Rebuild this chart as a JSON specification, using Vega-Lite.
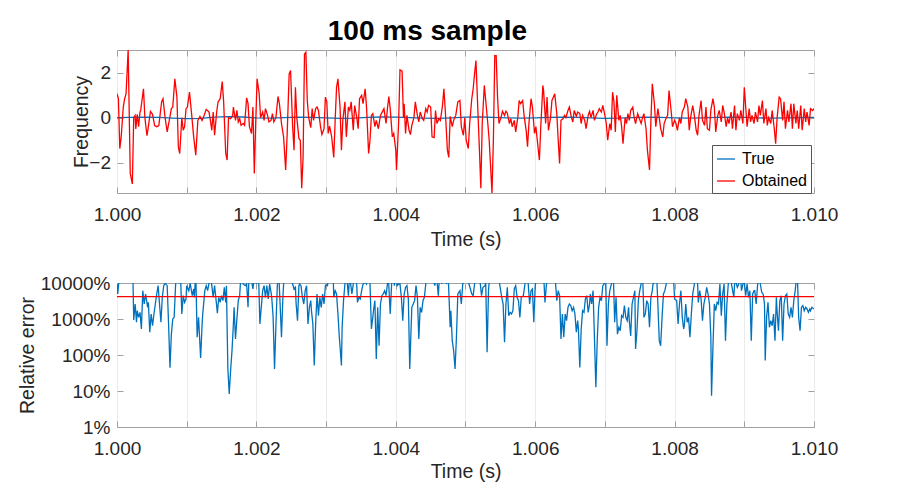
{
  "$schema": "https://vega.github.io/schema/vega-lite/v6.json",
  "background": "white",
  "padding": {"left": 16, "top": 18, "right": 5, "bottom": 5},
  "title": {
    "text": "100 ms sample",
    "font": "Liberation Sans",
    "fontSize": 28,
    "fontWeight": "bold",
    "color": "#000000",
    "anchor": "middle",
    "offset": 3
  },
  "bounds": "flush",
  "spacing": 90,
  "config": {
    "font": "Liberation Sans",
    "view": {"stroke": "#a0a0a0", "strokeWidth": 1},
    "axis": {
      "labelFont": "Liberation Sans",
      "labelFontSize": 19,
      "labelColor": "#262626",
      "titleFont": "Liberation Sans",
      "titleFontSize": 19.5,
      "titleFontWeight": "normal",
      "titleColor": "#262626",
      "tickColor": "#a0a0a0",
      "tickSize": -6,
      "domain": false,
      "labelFlush": false,
      "labelOverlap": false,
      "gridColor": "#ebebeb",
      "gridWidth": 1
    }
  },
  "datasets": {
    "truth": [
      {"t":1.0000,"v":0},{"t":1.0002,"v":0.01},{"t":1.0004,"v":0.02},{"t":1.0006,"v":0.01},{"t":1.0008,"v":-0.02},
      {"t":1.0010,"v":-0.04},{"t":1.0012,"v":-0.03},{"t":1.0014,"v":0.02},{"t":1.0016,"v":0.05},{"t":1.0018,"v":0.03},
      {"t":1.0020,"v":-0.01},{"t":1.0022,"v":-0.02},{"t":1.0024,"v":0},{"t":1.0026,"v":0.02},{"t":1.0028,"v":0.01},
      {"t":1.0030,"v":-0.01},{"t":1.0032,"v":-0.03},{"t":1.0034,"v":-0.02},{"t":1.0036,"v":0.01},{"t":1.0038,"v":0.03},
      {"t":1.0040,"v":0.02},{"t":1.0042,"v":0},{"t":1.0044,"v":-0.02},{"t":1.0046,"v":-0.03},{"t":1.0048,"v":-0.01},
      {"t":1.0050,"v":0.02},{"t":1.0052,"v":0.03},{"t":1.0054,"v":0.01},{"t":1.0056,"v":-0.01},{"t":1.0058,"v":-0.02},
      {"t":1.0060,"v":-0.01},{"t":1.0062,"v":0.01},{"t":1.0064,"v":0.02},{"t":1.0066,"v":0.01},{"t":1.0068,"v":-0.01},
      {"t":1.0070,"v":-0.03},{"t":1.0072,"v":-0.02},{"t":1.0074,"v":0},{"t":1.0076,"v":0.02},{"t":1.0078,"v":0.01},
      {"t":1.0080,"v":-0.01},{"t":1.0082,"v":-0.02},{"t":1.0084,"v":-0.01},{"t":1.0086,"v":0.01},{"t":1.0088,"v":0.02},
      {"t":1.0090,"v":0.01},{"t":1.0092,"v":-0.01},{"t":1.0094,"v":-0.02},{"t":1.0096,"v":-0.01},{"t":1.0098,"v":0},
      {"t":1.0100,"v":0.01}
    ],
    "obtained": [
      {"t":1.00000,"v":1.06},{"t":1.00002,"v":0.84},{"t":1.00004,"v":-1.37},{"t":1.00006,"v":-0.85},{"t":1.00009,"v":0.47},
      {"t":1.00011,"v":0.84},{"t":1.00013,"v":1.06},{"t":1.00016,"v":3.0},{"t":1.00017,"v":1.2},{"t":1.00019,"v":-2.47},
      {"t":1.00022,"v":-2.94},{"t":1.00024,"v":0},{"t":1.00026,"v":0.1},{"t":1.00027,"v":-0.5},{"t":1.00029,"v":0.15},
      {"t":1.00031,"v":-0.4},{"t":1.00033,"v":0.25},{"t":1.00034,"v":0.32},{"t":1.00038,"v":1.28},{"t":1.00040,"v":0},
      {"t":1.00043,"v":-0.8},{"t":1.00045,"v":-0.4},{"t":1.00048,"v":0.28},{"t":1.00051,"v":0.15},{"t":1.00054,"v":-0.35},
      {"t":1.00057,"v":-0.4},{"t":1.00060,"v":-0.35},{"t":1.00064,"v":0.7},{"t":1.00066,"v":0.84},{"t":1.00069,"v":0},
      {"t":1.00072,"v":-0.63},{"t":1.00075,"v":-0.12},{"t":1.00078,"v":0.4},{"t":1.00080,"v":0.47},{"t":1.00083,"v":1.72},
      {"t":1.00086,"v":0.9},{"t":1.00088,"v":-1.3},{"t":1.00090,"v":-1.59},{"t":1.00093,"v":0},{"t":1.00095,"v":-0.56},
      {"t":1.00097,"v":-0.4},{"t":1.00099,"v":0.4},{"t":1.00101,"v":0.47},{"t":1.00104,"v":1.13},{"t":1.00107,"v":0.18},
      {"t":1.00110,"v":-0.85},{"t":1.00113,"v":-1.66},{"t":1.00116,"v":-0.12},{"t":1.00119,"v":0.06},{"t":1.00122,"v":-0.12},
      {"t":1.00125,"v":0.1},{"t":1.00128,"v":0.37},{"t":1.00132,"v":0.25},{"t":1.00134,"v":-0.12},{"t":1.00136,"v":-0.56},
      {"t":1.00138,"v":0.25},{"t":1.00140,"v":-0.78},{"t":1.00143,"v":0.25},{"t":1.00145,"v":0.7},{"t":1.00148,"v":0.84},
      {"t":1.00151,"v":1.6},{"t":1.00153,"v":0.7},{"t":1.00156,"v":-1.59},{"t":1.00158,"v":-1.88},{"t":1.00160,"v":0},
      {"t":1.00163,"v":-0.04},{"t":1.00166,"v":0.1},{"t":1.00167,"v":0.47},{"t":1.00170,"v":-0.12},{"t":1.00172,"v":0.32},
      {"t":1.00174,"v":-0.19},{"t":1.00176,"v":-0.04},{"t":1.00178,"v":-0.34},{"t":1.00181,"v":-0.26},{"t":1.00183,"v":-0.34},
      {"t":1.00186,"v":0.88},{"t":1.00188,"v":0.62},{"t":1.00190,"v":-0.4},{"t":1.00193,"v":-0.7},{"t":1.00195,"v":0.47},
      {"t":1.00197,"v":-2.47},{"t":1.00199,"v":-0.26},{"t":1.00201,"v":1.72},{"t":1.00204,"v":1.06},{"t":1.00206,"v":0},
      {"t":1.00209,"v":0.25},{"t":1.00211,"v":-0.12},{"t":1.00213,"v":0.4},{"t":1.00216,"v":0.1},{"t":1.00218,"v":-0.19},
      {"t":1.00221,"v":-0.12},{"t":1.00223,"v":0.18},{"t":1.00225,"v":-0.19},{"t":1.00228,"v":0},{"t":1.00231,"v":0.94},
      {"t":1.00233,"v":0.62},{"t":1.00236,"v":-0.26},{"t":1.00239,"v":-0.85},{"t":1.00242,"v":-2.32},{"t":1.00244,"v":-0.85},
      {"t":1.00247,"v":1.94},{"t":1.00249,"v":2.09},{"t":1.00252,"v":-0.4},{"t":1.00254,"v":-1.44},{"t":1.00256,"v":1.35},
      {"t":1.00258,"v":0},{"t":1.00261,"v":-0.93},{"t":1.00263,"v":-1.0},{"t":1.00265,"v":-3.13},{"t":1.00267,"v":-1.74},
      {"t":1.00269,"v":2.82},{"t":1.00271,"v":2.9},{"t":1.00273,"v":0.76},{"t":1.00275,"v":0},{"t":1.00278,"v":-0.44},
      {"t":1.00280,"v":0.4},{"t":1.00282,"v":-0.12},{"t":1.00285,"v":0.4},{"t":1.00287,"v":0.47},{"t":1.00289,"v":0.32},
      {"t":1.00292,"v":-0.4},{"t":1.00294,"v":-0.75},{"t":1.00297,"v":-0.49},{"t":1.00299,"v":0.91},{"t":1.00301,"v":0.7},
      {"t":1.00303,"v":-0.7},{"t":1.00305,"v":-0.38},{"t":1.00308,"v":-0.85},{"t":1.00311,"v":-1.76},{"t":1.00313,"v":-0.12},
      {"t":1.00315,"v":1.35},{"t":1.00317,"v":1.72},{"t":1.00320,"v":0.47},{"t":1.00322,"v":-1.44},{"t":1.00324,"v":-0.12},
      {"t":1.00327,"v":0.7},{"t":1.00329,"v":-0.85},{"t":1.00332,"v":0.47},{"t":1.00334,"v":0.32},{"t":1.00336,"v":0.7},
      {"t":1.00339,"v":-0.56},{"t":1.00341,"v":0.54},{"t":1.00344,"v":0},{"t":1.00346,"v":-0.49},{"t":1.00348,"v":0.84},
      {"t":1.00351,"v":0.99},{"t":1.00353,"v":0.62},{"t":1.00356,"v":1.28},{"t":1.00358,"v":0.47},{"t":1.00361,"v":-1.59},
      {"t":1.00363,"v":-1.0},{"t":1.00365,"v":0.1},{"t":1.00367,"v":0.18},{"t":1.00370,"v":-0.4},{"t":1.00372,"v":-0.12},
      {"t":1.00375,"v":-0.49},{"t":1.00378,"v":0.1},{"t":1.00381,"v":0.28},{"t":1.00383,"v":0.4},{"t":1.00386,"v":-0.26},
      {"t":1.00388,"v":0.4},{"t":1.00390,"v":0.94},{"t":1.00392,"v":0.4},{"t":1.00395,"v":-0.85},{"t":1.00397,"v":-0.7},
      {"t":1.00400,"v":-1.44},{"t":1.00401,"v":-2.32},{"t":1.00404,"v":-0.26},{"t":1.00406,"v":2.12},{"t":1.00409,"v":2.06},
      {"t":1.00411,"v":0},{"t":1.00412,"v":0.62},{"t":1.00414,"v":-0.7},{"t":1.00416,"v":0.1},{"t":1.00419,"v":-0.56},
      {"t":1.00421,"v":-0.75},{"t":1.00423,"v":-0.34},{"t":1.00426,"v":0},{"t":1.00428,"v":0.7},{"t":1.00431,"v":0.1},
      {"t":1.00433,"v":-0.19},{"t":1.00435,"v":0.25},{"t":1.00438,"v":-0.04},{"t":1.00440,"v":-0.12},{"t":1.00443,"v":0.4},
      {"t":1.00445,"v":0.25},{"t":1.00447,"v":0.54},{"t":1.00450,"v":0.47},{"t":1.00452,"v":-0.85},{"t":1.00455,"v":-0.88},
      {"t":1.00457,"v":0.32},{"t":1.00459,"v":-0.26},{"t":1.00462,"v":-0.04},{"t":1.00464,"v":-0.12},{"t":1.00467,"v":0.54},
      {"t":1.00469,"v":1.28},{"t":1.00471,"v":0.32},{"t":1.00474,"v":-1.44},{"t":1.00476,"v":-1.76},{"t":1.00478,"v":0.06},
      {"t":1.00481,"v":-0.4},{"t":1.00483,"v":-0.12},{"t":1.00486,"v":0.1},{"t":1.00489,"v":0.7},{"t":1.00492,"v":0.76},
      {"t":1.00494,"v":-0.4},{"t":1.00497,"v":-0.78},{"t":1.00499,"v":0},{"t":1.00501,"v":-1.0},{"t":1.00504,"v":-1.37},
      {"t":1.00506,"v":-0.26},{"t":1.00509,"v":0.84},{"t":1.00511,"v":1.28},{"t":1.00513,"v":1.94},{"t":1.00515,"v":2.53},
      {"t":1.00517,"v":0.91},{"t":1.00520,"v":-1.44},{"t":1.00522,"v":-3.13},{"t":1.00524,"v":-0.26},{"t":1.00527,"v":1.43},
      {"t":1.00529,"v":0.76},{"t":1.00532,"v":-0.26},{"t":1.00534,"v":-1.0},{"t":1.00536,"v":-2.18},{"t":1.00538,"v":-3.34},
      {"t":1.00540,"v":-1.0},{"t":1.00542,"v":2.75},{"t":1.00544,"v":2.75},{"t":1.00546,"v":0.91},{"t":1.00548,"v":-0.26},
      {"t":1.00551,"v":0},{"t":1.00553,"v":0.29},{"t":1.00556,"v":0.1},{"t":1.00558,"v":0.29},{"t":1.00560,"v":0.2},
      {"t":1.00563,"v":-0.26},{"t":1.00565,"v":-0.04},{"t":1.00567,"v":-0.4},{"t":1.00570,"v":-0.12},{"t":1.00572,"v":-0.63},
      {"t":1.00575,"v":0},{"t":1.00577,"v":0.76},{"t":1.00579,"v":0.62},{"t":1.00582,"v":0.76},{"t":1.00584,"v":0.1},
      {"t":1.00587,"v":-0.56},{"t":1.00589,"v":-1.29},{"t":1.00591,"v":-0.26},{"t":1.00594,"v":0.84},{"t":1.00596,"v":0.47},
      {"t":1.00599,"v":-0.7},{"t":1.00601,"v":-0.4},{"t":1.00603,"v":-1.0},{"t":1.00606,"v":-1.88},{"t":1.00608,"v":-0.4},
      {"t":1.00611,"v":1.43},{"t":1.00612,"v":1.2},{"t":1.00615,"v":-0.26},{"t":1.00617,"v":0.91},{"t":1.00619,"v":-0.56},
      {"t":1.00622,"v":0},{"t":1.00624,"v":0.76},{"t":1.00626,"v":0.91},{"t":1.00628,"v":1.06},{"t":1.00631,"v":0.18},
      {"t":1.00633,"v":-1.0},{"t":1.00635,"v":-2.03},{"t":1.00637,"v":-0.12},{"t":1.00640,"v":-0.04},{"t":1.00642,"v":0.1},
      {"t":1.00644,"v":0},{"t":1.00647,"v":0.32},{"t":1.00649,"v":0.47},{"t":1.00652,"v":0},{"t":1.00654,"v":-0.19},
      {"t":1.00656,"v":0.32},{"t":1.00659,"v":0.06},{"t":1.00661,"v":0.25},{"t":1.00664,"v":0.18},{"t":1.00666,"v":-0.26},
      {"t":1.00668,"v":0.1},{"t":1.00671,"v":-0.12},{"t":1.00673,"v":-0.49},{"t":1.00676,"v":0.1},{"t":1.00678,"v":0.28},
      {"t":1.00680,"v":0},{"t":1.00683,"v":0.32},{"t":1.00685,"v":-0.12},{"t":1.00688,"v":0.15},{"t":1.00690,"v":0.25},
      {"t":1.00692,"v":0.4},{"t":1.00695,"v":0.25},{"t":1.00697,"v":0.54},{"t":1.00700,"v":0.1},{"t":1.00702,"v":-0.26},
      {"t":1.00704,"v":-1.0},{"t":1.00707,"v":-0.26},{"t":1.00709,"v":-0.56},{"t":1.00711,"v":1.13},{"t":1.00713,"v":0.7},
      {"t":1.00715,"v":-0.63},{"t":1.00717,"v":0.99},{"t":1.00720,"v":-0.12},{"t":1.00722,"v":0.1},{"t":1.00724,"v":-0.4},
      {"t":1.00726,"v":-1.15},{"t":1.00729,"v":0},{"t":1.00731,"v":-0.26},{"t":1.00733,"v":0.18},{"t":1.00735,"v":-0.12},
      {"t":1.00737,"v":0.32},{"t":1.00740,"v":0.47},{"t":1.00742,"v":0},{"t":1.00744,"v":-0.26},{"t":1.00747,"v":0.18},
      {"t":1.00749,"v":0},{"t":1.00752,"v":-0.26},{"t":1.00754,"v":0},{"t":1.00756,"v":0.18},{"t":1.00759,"v":-0.49},
      {"t":1.00761,"v":-1.44},{"t":1.00764,"v":-2.32},{"t":1.00766,"v":-0.12},{"t":1.00768,"v":1.5},{"t":1.00771,"v":0.62},
      {"t":1.00773,"v":-0.4},{"t":1.00776,"v":0.4},{"t":1.00778,"v":0},{"t":1.00780,"v":-0.49},{"t":1.00783,"v":-0.85},
      {"t":1.00785,"v":-0.26},{"t":1.00788,"v":0},{"t":1.00790,"v":0.1},{"t":1.00792,"v":1.2},{"t":1.00795,"v":0.32},
      {"t":1.00797,"v":-0.4},{"t":1.00800,"v":-0.12},{"t":1.00802,"v":-0.26},{"t":1.00804,"v":-0.56},{"t":1.00807,"v":0},
      {"t":1.00809,"v":-0.26},{"t":1.00811,"v":0.25},{"t":1.00814,"v":0.47},{"t":1.00816,"v":0.84},{"t":1.00819,"v":0.47},
      {"t":1.00821,"v":-0.56},{"t":1.00823,"v":0},{"t":1.00826,"v":0.54},{"t":1.00828,"v":0.18},{"t":1.00831,"v":-0.56},
      {"t":1.00833,"v":-0.78},{"t":1.00835,"v":0.1},{"t":1.00838,"v":0.76},{"t":1.00840,"v":-0.12},{"t":1.00843,"v":-0.34},
      {"t":1.00845,"v":0.47},{"t":1.00847,"v":-0.49},{"t":1.00850,"v":-0.56},{"t":1.00852,"v":0.32},{"t":1.00855,"v":0.84},
      {"t":1.00857,"v":0.47},{"t":1.00859,"v":-0.63},{"t":1.00862,"v":0.1},{"t":1.00864,"v":0.32},{"t":1.00867,"v":-0.19},
      {"t":1.00869,"v":0.54},{"t":1.00871,"v":0.25},{"t":1.00874,"v":-0.4},{"t":1.00876,"v":0},{"t":1.00878,"v":-0.26},
      {"t":1.00881,"v":0.25},{"t":1.00883,"v":-0.49},{"t":1.00886,"v":0.54},{"t":1.00888,"v":-0.56},{"t":1.00890,"v":0.18},
      {"t":1.00893,"v":-0.12},{"t":1.00895,"v":0.32},{"t":1.00898,"v":-0.26},{"t":1.00900,"v":1.35},{"t":1.00902,"v":0.47},
      {"t":1.00904,"v":-0.4},{"t":1.00907,"v":0.4},{"t":1.00909,"v":-0.19},{"t":1.00911,"v":0.1},{"t":1.00914,"v":-0.26},
      {"t":1.00916,"v":0.25},{"t":1.00919,"v":-0.19},{"t":1.00921,"v":0.54},{"t":1.00923,"v":0.1},{"t":1.00926,"v":0.76},
      {"t":1.00928,"v":-0.26},{"t":1.00931,"v":0.4},{"t":1.00933,"v":-0.34},{"t":1.00935,"v":0},{"t":1.00938,"v":-0.26},
      {"t":1.00940,"v":0.32},{"t":1.00943,"v":-0.49},{"t":1.00945,"v":-1.15},{"t":1.00947,"v":-0.04},{"t":1.00950,"v":0.91},
      {"t":1.00952,"v":0.84},{"t":1.00955,"v":-0.12},{"t":1.00957,"v":0.7},{"t":1.00959,"v":-0.49},{"t":1.00962,"v":0.32},
      {"t":1.00964,"v":-0.19},{"t":1.00967,"v":0.62},{"t":1.00969,"v":-0.49},{"t":1.00971,"v":0.62},{"t":1.00974,"v":-0.26},
      {"t":1.00976,"v":0.32},{"t":1.00978,"v":-0.49},{"t":1.00981,"v":0.54},{"t":1.00983,"v":-0.56},{"t":1.00986,"v":0.4},
      {"t":1.00988,"v":-0.19},{"t":1.00990,"v":0.25},{"t":1.00993,"v":-0.34},{"t":1.00995,"v":0.4},{"t":1.00998,"v":0.32},
      {"t":1.01000,"v":0.4}
    ],
    "err": [
      {"t":1.00000,"v":9380},{"t":1.00001,"v":4950},{"t":1.00004,"v":20000},{"t":1.00009,"v":20000},{"t":1.00013,"v":20000},
      {"t":1.00018,"v":20000},{"t":1.00022,"v":20000},{"t":1.00023,"v":10000},{"t":1.00024,"v":940},{"t":1.00026,"v":2610},
      {"t":1.00028,"v":810},{"t":1.00029,"v":1700},{"t":1.00031,"v":1110},{"t":1.00033,"v":1530},{"t":1.00035,"v":530},
      {"t":1.00037,"v":6120},{"t":1.00039,"v":2610},{"t":1.00041,"v":4950},{"t":1.00044,"v":2110},{"t":1.00045,"v":2900},
      {"t":1.00047,"v":430},{"t":1.00049,"v":1380},{"t":1.00051,"v":650},{"t":1.00053,"v":1380},{"t":1.00055,"v":2610},
      {"t":1.00057,"v":4950},{"t":1.00059,"v":8430},{"t":1.00061,"v":2610},{"t":1.00063,"v":810},{"t":1.00065,"v":4000},
      {"t":1.00067,"v":8430},{"t":1.00069,"v":9790},{"t":1.00072,"v":8430},{"t":1.00074,"v":730},{"t":1.00076,"v":44},
      {"t":1.00078,"v":380},{"t":1.00080,"v":1000},{"t":1.00082,"v":1110},{"t":1.00084,"v":8430},{"t":1.00086,"v":20000},
      {"t":1.00089,"v":9790},{"t":1.00091,"v":20000},{"t":1.00093,"v":1380},{"t":1.00095,"v":4450},{"t":1.00097,"v":2900},
      {"t":1.00099,"v":3590},{"t":1.00100,"v":8430},{"t":1.00103,"v":6120},{"t":1.00105,"v":9790},{"t":1.00108,"v":4450},
      {"t":1.00110,"v":6810},{"t":1.00111,"v":4000},{"t":1.00113,"v":20000},{"t":1.00115,"v":310},{"t":1.00117,"v":1110},
      {"t":1.00120,"v":83},{"t":1.00122,"v":650},{"t":1.00123,"v":1380},{"t":1.00126,"v":6120},{"t":1.00128,"v":8430},
      {"t":1.00130,"v":6120},{"t":1.00132,"v":9790},{"t":1.00134,"v":20000},{"t":1.00136,"v":8430},{"t":1.00138,"v":4000},
      {"t":1.00140,"v":8430},{"t":1.00142,"v":3590},{"t":1.00144,"v":1440},{"t":1.00146,"v":4000},{"t":1.00148,"v":2900},
      {"t":1.00150,"v":4450},{"t":1.00152,"v":3230},{"t":1.00154,"v":7580},{"t":1.00156,"v":2900},{"t":1.00157,"v":8430},
      {"t":1.00159,"v":45},{"t":1.00161,"v":8.3},{"t":1.00163,"v":37},{"t":1.00165,"v":132},{"t":1.00167,"v":730},
      {"t":1.00168,"v":2110},{"t":1.00170,"v":280},{"t":1.00172,"v":1000},{"t":1.00174,"v":3230},{"t":1.00176,"v":4450},
      {"t":1.00177,"v":9380},{"t":1.00179,"v":20000},{"t":1.00181,"v":9380},{"t":1.00184,"v":8430},{"t":1.00186,"v":9380},
      {"t":1.00188,"v":2110},{"t":1.00189,"v":9380},{"t":1.00191,"v":20000},{"t":1.00195,"v":6810},{"t":1.00198,"v":20000},
      {"t":1.00200,"v":9380},{"t":1.00203,"v":20000},{"t":1.00205,"v":730},{"t":1.00207,"v":2110},{"t":1.00209,"v":6120},
      {"t":1.00211,"v":8430},{"t":1.00213,"v":4000},{"t":1.00215,"v":8430},{"t":1.00217,"v":3590},{"t":1.00219,"v":9380},
      {"t":1.00221,"v":5510},{"t":1.00222,"v":4000},{"t":1.00224,"v":1110},{"t":1.00226,"v":41},{"t":1.00228,"v":650},
      {"t":1.00230,"v":8430},{"t":1.00232,"v":20000},{"t":1.00234,"v":2610},{"t":1.00236,"v":310},{"t":1.00238,"v":4000},
      {"t":1.00240,"v":20000},{"t":1.00245,"v":20000},{"t":1.00252,"v":9380},{"t":1.00254,"v":6810},{"t":1.00256,"v":7580},
      {"t":1.00257,"v":2610},{"t":1.00259,"v":900},{"t":1.00261,"v":8430},{"t":1.00262,"v":9380},{"t":1.00264,"v":8430},
      {"t":1.00266,"v":4000},{"t":1.00268,"v":2610},{"t":1.00270,"v":6120},{"t":1.00272,"v":8430},{"t":1.00274,"v":730},
      {"t":1.00276,"v":2110},{"t":1.00278,"v":3230},{"t":1.00279,"v":1700},{"t":1.00281,"v":730},{"t":1.00283,"v":51},
      {"t":1.00285,"v":730},{"t":1.00287,"v":4950},{"t":1.00289,"v":1240},{"t":1.00291,"v":4000},{"t":1.00293,"v":2110},
      {"t":1.00295,"v":4950},{"t":1.00297,"v":2610},{"t":1.00299,"v":8430},{"t":1.00300,"v":8990},{"t":1.00302,"v":8430},
      {"t":1.00304,"v":20000},{"t":1.00310,"v":20000},{"t":1.00311,"v":4000},{"t":1.00313,"v":6120},{"t":1.00315,"v":4950},
      {"t":1.00317,"v":1380},{"t":1.00319,"v":310},{"t":1.00322,"v":51},{"t":1.00323,"v":590},{"t":1.00325,"v":3230},
      {"t":1.00327,"v":9380},{"t":1.00329,"v":20000},{"t":1.00332,"v":4450},{"t":1.00333,"v":9380},{"t":1.00335,"v":10500},
      {"t":1.00337,"v":4950},{"t":1.00339,"v":9380},{"t":1.00341,"v":20000},{"t":1.00344,"v":8430},{"t":1.00345,"v":2900},
      {"t":1.00347,"v":4000},{"t":1.00349,"v":3590},{"t":1.00351,"v":6120},{"t":1.00353,"v":9380},{"t":1.00356,"v":10500},
      {"t":1.00358,"v":9380},{"t":1.00360,"v":20000},{"t":1.00363,"v":9380},{"t":1.00365,"v":530},{"t":1.00367,"v":1110},
      {"t":1.00368,"v":1700},{"t":1.00370,"v":3230},{"t":1.00372,"v":77},{"t":1.00374,"v":2110},{"t":1.00376,"v":180},
      {"t":1.00378,"v":2610},{"t":1.00380,"v":4450},{"t":1.00382,"v":4950},{"t":1.00384,"v":6120},{"t":1.00386,"v":4450},
      {"t":1.00388,"v":9380},{"t":1.00389,"v":20000},{"t":1.00392,"v":1380},{"t":1.00394,"v":9380},{"t":1.00396,"v":20000},
      {"t":1.00398,"v":8430},{"t":1.00400,"v":20000},{"t":1.00402,"v":8430},{"t":1.00404,"v":9380},{"t":1.00406,"v":9380},
      {"t":1.00408,"v":4000},{"t":1.00410,"v":900},{"t":1.00412,"v":4950},{"t":1.00414,"v":7580},{"t":1.00416,"v":8430},
      {"t":1.00418,"v":3590},{"t":1.00420,"v":41},{"t":1.00422,"v":590},{"t":1.00423,"v":2110},{"t":1.00425,"v":2610},
      {"t":1.00427,"v":3230},{"t":1.00429,"v":8430},{"t":1.00431,"v":4000},{"t":1.00433,"v":280},{"t":1.00435,"v":2110},
      {"t":1.00437,"v":1530},{"t":1.00439,"v":3230},{"t":1.00441,"v":4000},{"t":1.00443,"v":9380},{"t":1.00444,"v":20000},
      {"t":1.00451,"v":20000},{"t":1.00456,"v":8430},{"t":1.00458,"v":20000},{"t":1.00461,"v":4450},{"t":1.00463,"v":20000},
      {"t":1.00466,"v":9380},{"t":1.00468,"v":20000},{"t":1.00473,"v":9380},{"t":1.00475,"v":20000},{"t":1.00478,"v":590},
      {"t":1.00479,"v":1700},{"t":1.00481,"v":250},{"t":1.00483,"v":132},{"t":1.00485,"v":41},{"t":1.00487,"v":310},
      {"t":1.00489,"v":4950},{"t":1.00492,"v":6120},{"t":1.00494,"v":2610},{"t":1.00496,"v":9380},{"t":1.00498,"v":10500},
      {"t":1.00501,"v":20000},{"t":1.00505,"v":9380},{"t":1.00509,"v":4950},{"t":1.00511,"v":4450},{"t":1.00513,"v":9380},
      {"t":1.00516,"v":20000},{"t":1.00521,"v":10500},{"t":1.00523,"v":4450},{"t":1.00525,"v":7580},{"t":1.00528,"v":8430},
      {"t":1.00529,"v":10500},{"t":1.00531,"v":119},{"t":1.00533,"v":6120},{"t":1.00535,"v":20000},{"t":1.00547,"v":20000},
      {"t":1.00549,"v":9380},{"t":1.00552,"v":4000},{"t":1.00554,"v":2610},{"t":1.00556,"v":225},{"t":1.00558,"v":2610},
      {"t":1.00560,"v":7580},{"t":1.00562,"v":1240},{"t":1.00564,"v":1530},{"t":1.00566,"v":1380},{"t":1.00568,"v":1700},
      {"t":1.00570,"v":6810},{"t":1.00572,"v":8430},{"t":1.00574,"v":4000},{"t":1.00576,"v":3230},{"t":1.00578,"v":1110},
      {"t":1.00580,"v":4000},{"t":1.00583,"v":4450},{"t":1.00585,"v":8430},{"t":1.00587,"v":20000},{"t":1.00590,"v":9380},
      {"t":1.00592,"v":2610},{"t":1.00594,"v":6120},{"t":1.00596,"v":6810},{"t":1.00598,"v":810},{"t":1.00600,"v":8430},
      {"t":1.00603,"v":20000},{"t":1.00612,"v":20000},{"t":1.00614,"v":2900},{"t":1.00616,"v":8430},{"t":1.00619,"v":20000},
      {"t":1.00628,"v":20000},{"t":1.00631,"v":3230},{"t":1.00633,"v":6120},{"t":1.00635,"v":4450},{"t":1.00637,"v":280},
      {"t":1.00639,"v":1380},{"t":1.00641,"v":310},{"t":1.00643,"v":1380},{"t":1.00645,"v":900},{"t":1.00647,"v":2110},
      {"t":1.00649,"v":2610},{"t":1.00651,"v":2350},{"t":1.00653,"v":1700},{"t":1.00655,"v":2110},{"t":1.00657,"v":1380},
      {"t":1.00659,"v":430},{"t":1.00661,"v":900},{"t":1.00662,"v":530},{"t":1.00664,"v":45},{"t":1.00666,"v":530},
      {"t":1.00668,"v":1700},{"t":1.00670,"v":1530},{"t":1.00672,"v":3590},{"t":1.00674,"v":4450},{"t":1.00676,"v":1530},
      {"t":1.00678,"v":2610},{"t":1.00679,"v":4950},{"t":1.00681,"v":2610},{"t":1.00683,"v":6120},{"t":1.00685,"v":310},
      {"t":1.00687,"v":12.7},{"t":1.00689,"v":250},{"t":1.00691,"v":2110},{"t":1.00693,"v":4000},{"t":1.00695,"v":3230},
      {"t":1.00697,"v":8430},{"t":1.00699,"v":9380},{"t":1.00701,"v":20000},{"t":1.00703,"v":180},{"t":1.00705,"v":2610},
      {"t":1.00707,"v":6120},{"t":1.00710,"v":10500},{"t":1.00712,"v":20000},{"t":1.00714,"v":810},{"t":1.00716,"v":4000},
      {"t":1.00718,"v":380},{"t":1.00720,"v":590},{"t":1.00722,"v":470},{"t":1.00724,"v":1240},{"t":1.00726,"v":1110},
      {"t":1.00728,"v":2350},{"t":1.00730,"v":1110},{"t":1.00732,"v":900},{"t":1.00734,"v":2110},{"t":1.00735,"v":900},
      {"t":1.00737,"v":340},{"t":1.00739,"v":2610},{"t":1.00741,"v":4000},{"t":1.00743,"v":6120},{"t":1.00744,"v":147},
      {"t":1.00746,"v":470},{"t":1.00748,"v":3230},{"t":1.00750,"v":6120},{"t":1.00752,"v":9380},{"t":1.00754,"v":20000},
      {"t":1.00756,"v":1110},{"t":1.00758,"v":1380},{"t":1.00760,"v":3230},{"t":1.00762,"v":2610},{"t":1.00764,"v":590},
      {"t":1.00766,"v":4000},{"t":1.00768,"v":6120},{"t":1.00769,"v":9380},{"t":1.00772,"v":10500},{"t":1.00774,"v":20000},
      {"t":1.00776,"v":2610},{"t":1.00778,"v":250},{"t":1.00780,"v":180},{"t":1.00782,"v":1110},{"t":1.00784,"v":4950},
      {"t":1.00786,"v":6120},{"t":1.00788,"v":9380},{"t":1.00791,"v":20000},{"t":1.00798,"v":20000},{"t":1.00800,"v":3590},
      {"t":1.00803,"v":3230},{"t":1.00805,"v":730},{"t":1.00807,"v":2610},{"t":1.00809,"v":6120},{"t":1.00811,"v":1110},
      {"t":1.00813,"v":530},{"t":1.00814,"v":650},{"t":1.00816,"v":2610},{"t":1.00818,"v":810},{"t":1.00820,"v":1110},
      {"t":1.00822,"v":310},{"t":1.00824,"v":1380},{"t":1.00826,"v":4950},{"t":1.00828,"v":8430},{"t":1.00830,"v":20000},
      {"t":1.00833,"v":9380},{"t":1.00834,"v":2900},{"t":1.00836,"v":6120},{"t":1.00838,"v":3590},{"t":1.00840,"v":900},
      {"t":1.00842,"v":2610},{"t":1.00844,"v":4000},{"t":1.00846,"v":7580},{"t":1.00848,"v":4950},{"t":1.00850,"v":2610},
      {"t":1.00852,"v":310},{"t":1.00853,"v":7.4},{"t":1.00855,"v":163},{"t":1.00857,"v":2610},{"t":1.00859,"v":1700},
      {"t":1.00861,"v":2900},{"t":1.00863,"v":2610},{"t":1.00865,"v":9380},{"t":1.00867,"v":1240},{"t":1.00869,"v":4950},
      {"t":1.00871,"v":9380},{"t":1.00873,"v":250},{"t":1.00875,"v":2610},{"t":1.00877,"v":9380},{"t":1.00879,"v":20000},
      {"t":1.00882,"v":8430},{"t":1.00885,"v":4000},{"t":1.00886,"v":9380},{"t":1.00888,"v":10500},{"t":1.00890,"v":7580},
      {"t":1.00892,"v":9380},{"t":1.00894,"v":20000},{"t":1.00896,"v":6120},{"t":1.00898,"v":9380},{"t":1.00900,"v":10500},
      {"t":1.00902,"v":4450},{"t":1.00904,"v":9380},{"t":1.00906,"v":4000},{"t":1.00908,"v":6120},{"t":1.00910,"v":250},
      {"t":1.00912,"v":4950},{"t":1.00914,"v":6120},{"t":1.00915,"v":6120},{"t":1.00917,"v":2610},{"t":1.00919,"v":8430},
      {"t":1.00921,"v":20000},{"t":1.00923,"v":9380},{"t":1.00925,"v":5510},{"t":1.00927,"v":4950},{"t":1.00929,"v":2610},
      {"t":1.00930,"v":70},{"t":1.00932,"v":1110},{"t":1.00934,"v":2900},{"t":1.00936,"v":590},{"t":1.00938,"v":900},
      {"t":1.00940,"v":650},{"t":1.00942,"v":1380},{"t":1.00944,"v":250},{"t":1.00946,"v":4000},{"t":1.00947,"v":1700},
      {"t":1.00949,"v":470},{"t":1.00951,"v":3230},{"t":1.00953,"v":4450},{"t":1.00955,"v":250},{"t":1.00957,"v":2610},
      {"t":1.00959,"v":4450},{"t":1.00961,"v":4950},{"t":1.00963,"v":1380},{"t":1.00965,"v":1110},{"t":1.00967,"v":2110},
      {"t":1.00969,"v":1110},{"t":1.00971,"v":3230},{"t":1.00973,"v":6120},{"t":1.00974,"v":9380},{"t":1.00976,"v":20000},
      {"t":1.00978,"v":1110},{"t":1.00980,"v":470},{"t":1.00982,"v":2110},{"t":1.00984,"v":2350},{"t":1.00986,"v":1700},
      {"t":1.00988,"v":2110},{"t":1.00990,"v":1900},{"t":1.00992,"v":1530},{"t":1.00994,"v":1900},{"t":1.00995,"v":1700},
      {"t":1.00997,"v":2110},{"t":1.01000,"v":1900}
    ],
    "mean": [{"t0":1.0,"t1":1.01,"v":4170}]
  },
  "vconcat": [
    {
      "width": 697,
      "height": 143,
      "layer": [
        {
          "data": {"name": "truth"},
          "mark": {"type": "line", "strokeWidth": 1.3, "clip": true},
          "encoding": {
            "x": {
              "field": "t", "type": "quantitative",
              "scale": {"domain": [1.0, 1.01], "nice": false, "zero": false},
              "axis": {"orient": "top", "values": [1.0,1.001,1.002,1.003,1.004,1.005,1.006,1.007,1.008,1.009,1.01], "labels": false, "grid": false, "title": null}
            },
            "y": {
              "field": "v", "type": "quantitative",
              "scale": {"domain": [-3.34, 3.0], "nice": false, "zero": false},
              "axis": {"orient": "right", "values": [-2, 0, 2], "labels": false, "grid": false, "title": null}
            },
            "color": {
              "datum": "True", "type": "nominal",
              "scale": {"domain": ["True", "Obtained"], "range": ["#0072BD", "#FF0000"]},
              "legend": {
                "orient": "none", "legendX": 595, "legendY": 95, "title": null,
                "symbolType": "stroke", "symbolStrokeWidth": 1.3, "symbolSize": 324,
                "labelFont": "Liberation Sans", "labelFontSize": 16, "labelColor": "#000000",
                "fillColor": "white", "strokeColor": "#555555", "padding": 4, "rowPadding": 4,
                "labelOffset": 6, "cornerRadius": 0
              }
            }
          }
        },
        {
          "data": {"name": "obtained"},
          "mark": {"type": "line", "strokeWidth": 1.3, "clip": true},
          "encoding": {
            "x": {
              "field": "t", "type": "quantitative",
              "scale": {"domain": [1.0, 1.01], "nice": false, "zero": false},
              "axis": {
                "orient": "bottom",
                "values": [1.0,1.001,1.002,1.003,1.004,1.005,1.006,1.007,1.008,1.009,1.01],
                "labelExpr": "round((datum.value-1)*1000)%2==0 ? format(datum.value,'.3f') : ''",
                "grid": true, "labelPadding": 18,
                "title": "Time (s)", "titleBaseline": "alphabetic", "titleY": 52
              }
            },
            "y": {
              "field": "v", "type": "quantitative",
              "scale": {"domain": [-3.34, 3.0], "nice": false, "zero": false},
              "axis": {
                "orient": "left", "values": [-2, 0, 2], "grid": false, "labelPadding": 12.5,
                "title": "Frequency", "titleBaseline": "alphabetic", "titleX": -29.5
              }
            },
            "color": {
              "datum": "Obtained", "type": "nominal",
              "scale": {"domain": ["True", "Obtained"], "range": ["#0072BD", "#FF0000"]},
              "legend": {
                "orient": "none", "legendX": 595, "legendY": 95, "title": null,
                "symbolType": "stroke", "symbolStrokeWidth": 1.3, "symbolSize": 324,
                "labelFont": "Liberation Sans", "labelFontSize": 16, "labelColor": "#000000",
                "fillColor": "white", "strokeColor": "#555555", "padding": 4, "rowPadding": 4,
                "labelOffset": 6, "cornerRadius": 0
              }
            }
          }
        }
      ],
      "resolve": {"axis": {"x": "independent", "y": "independent"}}
    },
    {
      "width": 697,
      "height": 144,
      "layer": [
        {
          "data": {"name": "err"},
          "mark": {"type": "line", "color": "#0072BD", "strokeWidth": 1.3, "clip": true},
          "encoding": {
            "x": {
              "field": "t", "type": "quantitative",
              "scale": {"domain": [1.0, 1.01], "nice": false, "zero": false},
              "axis": {
                "orient": "bottom",
                "values": [1.0,1.001,1.002,1.003,1.004,1.005,1.006,1.007,1.008,1.009,1.01],
                "labelExpr": "round((datum.value-1)*1000)%2==0 ? format(datum.value,'.3f') : ''",
                "grid": true, "labelPadding": 18,
                "title": "Time (s)", "titleBaseline": "alphabetic", "titleY": 50
              }
            },
            "y": {
              "field": "v", "type": "quantitative",
              "scale": {"type": "log", "domain": [1, 10000], "nice": false},
              "axis": {
                "orient": "left", "values": [1, 10, 100, 1000, 10000], "grid": false, "labelPadding": 13,
                "labelExpr": "format(datum.value, 'd') + '%'",
                "title": "Relative error", "titleBaseline": "alphabetic", "titleX": -84
              }
            }
          }
        },
        {
          "data": {"name": "mean"},
          "mark": {"type": "rule", "color": "#FF0000", "strokeWidth": 1.3},
          "encoding": {
            "x": {
              "field": "t0", "type": "quantitative",
              "scale": {"domain": [1.0, 1.01], "nice": false, "zero": false},
              "axis": {"orient": "top", "values": [1.0,1.001,1.002,1.003,1.004,1.005,1.006,1.007,1.008,1.009,1.01], "labels": false, "grid": false, "title": null}
            },
            "x2": {"field": "t1"},
            "y": {
              "field": "v", "type": "quantitative",
              "scale": {"type": "log", "domain": [1, 10000], "nice": false},
              "axis": {"orient": "right", "values": [1, 10, 100, 1000, 10000], "labels": false, "grid": false, "title": null}
            }
          }
        }
      ],
      "resolve": {"axis": {"x": "independent", "y": "independent"}}
    }
  ]
}
